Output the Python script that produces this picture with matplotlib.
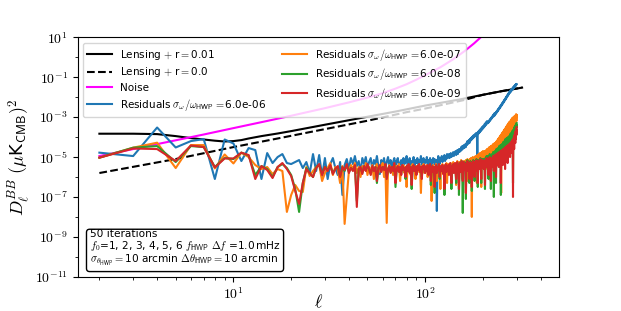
import numpy as np
import matplotlib
matplotlib.use("Agg")
import matplotlib.pyplot as plt
from matplotlib import ticker

plt.rcParams['mathtext.fontset'] = 'cm'
plt.rcParams['font.family'] = ['DejaVu Sans']

# ---------------- data (log10 of D_ell in muK^2) ----------------
lens_r001_ell = [2, 3, 4, 5, 6, 7, 8, 9, 10, 11, 12, 14, 17, 20, 30, 50, 70, 100, 150, 200, 250, 320]
lens_r001_log = [-3.83, -3.83, -3.85, -3.95, -4.05, -4.12, -4.18, -4.22, -4.2, -4.15, -4.07, -3.95,
                 -3.82, -3.7, -3.38, -2.98, -2.72, -2.42, -2.12, -1.88, -1.7, -1.52]

lens_r0_ell = [2, 5, 10, 16, 30, 50, 80, 100, 160, 200, 250, 320]
lens_r0_log = [-5.8, -5.1, -4.5, -4.12, -3.6, -3.18, -2.75, -2.57, -2.14, -1.88, -1.7, -1.52]

noise_ell = [2, 3, 5, 7, 10, 15, 20, 30, 40, 50, 60, 70, 80, 90, 100, 120, 140, 160, 180, 200, 250]
noise_log = [-4.95, -4.6, -4.16, -3.87, -3.55, -3.19, -2.93, -2.55, -2.26, -2.02, -1.8, -1.57,
             -1.35, -1.12, -0.9, -0.5, -0.1, 0.3, 0.7, 1.1, 2.6]

res_ell = list(range(2, 301))

res_6e06_log = [
    -4.78, -4.95, -3.52, -4.52, -4.2, -4.1, -6.1, -4.12, -4.32, -5.2,
    -4.55, -4.65, -6.1, -4.8, -5.3, -5.0, -4.85, -5.3, -5.35, -5.25,
    -5.15, -5.55, -5.25, -5.8, -4.85, -5.7, -4.9, -5.95, -5.05, -6.1,
    -5.35, -5.05, -5.55, -5.9, -5.25, -6.9, -5.4, -5.1, -5.6, -5.05,
    -5.35, -4.95, -5.45, -5.2, -5.75, -5.05, -5.35, -5.0, -5.55, -5.25,
    -5.05, -5.65, -5.15, -5.35, -4.95, -5.45, -5.85, -5.15, -5.35, -5.05,
    -5.55, -5.25, -5.0, -5.45, -5.15, -5.75, -5.25, -5.05, -5.4, -5.2,
    -5.05, -5.55, -5.3, -5.15, -5.65, -5.05, -5.35, -5.25, -4.95, -5.5,
    -5.25, -5.05, -5.45, -5.2, -5.35, -5.0, -5.55, -5.15, -5.3, -5.05,
    -5.4, -5.15, -5.25, -4.95, -5.5, -5.2, -5.05, -5.35, -5.15, -5.25,
    -5.0, -5.35, -5.15, -5.45, -5.05, -5.3, -5.15, -5.55, -5.05, -5.25,
    -5.1, -5.4, -5.15, -7.7, -5.25, -4.95, -5.2, -5.35, -5.05, -5.15,
    -4.95, -5.25, -5.05, -5.15, -4.9, -5.2, -5.0, -5.1, -4.85, -5.05,
    -4.95, -4.85, -5.05, -4.9, -4.8, -5.0, -4.85, -4.9, -4.75, -4.95,
    -4.8, -4.85, -4.7, -4.9, -4.75, -4.65, -4.85, -4.7, -4.6, -4.75,
    -4.6, -4.7, -4.5, -4.65, -4.45, -4.6, -4.5, -4.4, -4.55, -4.45,
    -4.35, -4.5, -4.3, -4.4, -4.2, -4.35, -4.25, -4.15, -4.3, -4.1,
    -4.2, -4.05, -4.15, -4.0, -4.1, -3.95, -4.05, -3.9, -4.0, -3.95,
    -3.85, -3.95, -3.8, -3.9, -3.85, -5.0, -3.75, -3.85, -3.7, -3.8,
    -3.65, -3.75, -3.6, -3.7, -3.55, -3.65, -3.5, -3.6, -3.45, -3.55,
    -3.45, -3.5, -3.35, -3.45, -3.3, -3.4, -3.25, -3.35, -3.2, -3.3,
    -3.25, -3.3, -3.2, -3.25, -3.15, -3.2, -3.1, -3.15, -3.05, -3.1,
    -3.0, -3.05, -2.95, -3.0, -2.9, -2.95, -2.85, -2.95, -2.8, -2.9,
    -2.8, -2.85, -2.75, -2.8, -2.7, -2.75, -2.65, -2.7, -2.6, -2.65,
    -2.55, -2.6, -2.5, -2.55, -2.45, -2.5, -2.4, -2.45, -2.35, -2.4,
    -2.3, -2.35, -2.25, -2.3, -2.2, -2.25, -2.15, -2.2, -2.1, -2.15,
    -2.05, -2.1, -2.0, -2.05, -1.95, -2.0, -1.9, -1.95, -1.85, -1.9,
    -1.8, -1.85, -1.75, -1.8, -1.72, -1.77, -1.68, -1.73, -1.64, -1.7,
    -1.6, -1.65, -1.57, -1.62, -1.53, -1.58, -1.5, -1.55, -1.46, -1.52,
    -1.44, -1.48, -1.4, -1.45, -1.37, -1.42, -1.34, -1.38, -1.35]

res_6e07_log = [
    -5.03, -4.53, -4.28, -5.55, -4.4, -4.4, -5.57, -4.87, -5.32, -4.78,
    -5.0, -5.4, -5.6, -5.5, -5.85, -5.6, -5.7, -7.75, -6.9, -6.4,
    -6.7, -6.75, -5.5, -5.95, -5.7, -5.5, -5.4, -6.2, -5.8, -5.55,
    -5.3, -5.9, -5.5, -5.6, -6.3, -5.45, -8.35, -7.0, -5.7, -5.4,
    -5.6, -5.3, -5.8, -5.5, -6.0, -5.45, -5.65, -5.3, -5.9, -5.5,
    -5.7, -5.4, -6.1, -5.5, -5.35, -5.8, -5.5, -5.6, -5.3, -6.0,
    -5.5, -8.3, -5.6, -5.4, -5.75, -5.5, -5.9, -5.4, -5.6, -5.45,
    -5.7, -5.35, -6.2, -5.5, -5.6, -5.4, -5.8, -5.5, -6.5, -5.4,
    -5.6, -5.45, -5.9, -5.5, -5.35, -5.7, -5.5, -6.1, -5.45, -5.6,
    -5.4, -5.75, -5.5, -6.8, -5.45, -5.6, -5.35, -5.8, -5.5, -5.65,
    -5.4, -6.0, -5.55, -5.45, -5.7, -5.5, -7.2, -5.6, -5.4, -5.8,
    -5.5, -5.65, -5.35, -6.2, -5.5, -5.7, -5.4, -5.55, -6.6, -5.45,
    -5.6, -5.35, -5.75, -5.5, -5.9, -5.4, -5.6, -5.3, -6.3, -5.5,
    -5.35, -5.7, -5.45, -5.6, -5.3, -6.0, -5.4, -5.55, -5.25, -5.7,
    -5.4, -5.6, -5.3, -6.4, -5.45, -5.2, -5.65, -5.35, -5.5, -5.25,
    -5.6, -5.3, -5.15, -5.5, -6.1, -5.3, -5.45, -5.2, -5.55, -5.25,
    -5.4, -5.15, -5.6, -5.3, -5.1, -6.2, -5.35, -5.2, -5.45, -5.1,
    -5.3, -5.05, -5.5, -8.0, -5.2, -5.0, -5.35, -5.15, -5.45, -5.0,
    -5.2, -4.95, -5.4, -5.1, -6.3, -4.9, -5.25, -5.05, -4.85, -5.3,
    -5.0, -4.8, -5.2, -4.95, -6.5, -4.75, -5.1, -4.9, -4.7, -5.15,
    -4.75, -5.0, -4.7, -5.1, -4.7, -5.6, -4.65, -4.95, -4.6, -5.05,
    -4.6, -4.85, -4.55, -5.3, -4.5, -4.8, -4.5, -4.95, -4.45, -4.75,
    -4.45, -4.7, -4.4, -5.2, -4.35, -4.65, -4.35, -4.9, -4.3, -4.6,
    -4.3, -4.55, -4.25, -5.3, -4.2, -4.45, -4.15, -4.7, -4.1, -4.4,
    -4.05, -4.35, -4.0, -4.6, -3.95, -4.3, -3.9, -6.8, -3.85, -4.2,
    -3.8, -4.1, -3.75, -4.4, -3.7, -4.0, -3.65, -4.3, -3.6, -3.95,
    -3.55, -3.9, -3.5, -4.2, -3.45, -3.8, -3.4, -4.1, -3.35, -3.7,
    -3.3, -3.65, -3.25, -4.0, -3.25, -3.6, -3.2, -3.9, -3.15, -3.5,
    -3.1, -3.45, -3.05, -3.8, -3.05, -3.4, -3.0, -3.7, -3.0, -3.3,
    -2.95, -3.3, -2.95, -3.6, -2.9, -3.25, -2.85, -3.2, -2.9]

res_6e08_log = [
    -5.03, -4.53, -4.45, -5.25, -4.45, -4.5, -5.5, -5.05, -5.1, -4.78,
    -4.92, -5.9, -5.45, -5.6, -6.0, -5.5, -5.35, -5.55, -5.9, -6.6,
    -7.75, -6.3, -5.55, -5.8, -6.0, -5.5, -5.4, -5.85, -5.5, -5.65,
    -5.45, -5.8, -5.6, -5.5, -5.95, -5.5, -5.7, -5.4, -5.75, -5.55,
    -5.65, -5.45, -7.2, -5.6, -5.55, -5.8, -5.45, -5.65, -5.4, -5.6,
    -5.85, -5.5, -5.65, -5.5, -6.3, -5.55, -5.45, -5.7, -5.5, -5.6,
    -5.4, -6.0, -5.6, -5.5, -5.75, -5.5, -5.65, -5.35, -6.5, -5.6,
    -5.5, -5.7, -5.5, -5.85, -5.45, -5.6, -5.55, -6.1, -5.5, -5.65,
    -5.4, -5.75, -5.5, -6.6, -5.5, -5.45, -5.65, -5.5, -5.85, -5.5,
    -5.6, -5.4, -5.7, -5.5, -6.0, -5.5, -5.55, -5.45, -5.75, -5.5,
    -5.65, -5.45, -5.85, -5.5, -5.4, -6.4, -5.55, -5.5, -5.7, -5.5,
    -6.8, -5.5, -5.45, -5.75, -5.5, -5.6, -5.4, -6.1, -5.55, -5.5,
    -5.65, -5.45, -5.8, -5.5, -6.9, -5.5, -5.4, -5.7, -5.5, -5.55,
    -5.45, -5.85, -5.5, -5.35, -5.65, -6.6, -5.45, -5.55, -5.4, -5.75,
    -5.5, -5.35, -5.6, -6.3, -5.45, -5.3, -5.65, -5.45, -6.9, -5.4,
    -5.3, -5.7, -5.4, -5.2, -5.55, -7.8, -5.35, -5.25, -5.6, -5.3,
    -5.45, -7.1, -5.25, -5.4, -5.15, -5.65, -5.3, -5.45, -6.3, -5.25,
    -5.2, -5.5, -5.35, -6.7, -5.25, -5.4, -5.15, -5.55, -5.3, -6.2,
    -5.2, -5.45, -5.25, -5.1, -5.65, -5.3, -6.5, -5.15, -5.4, -5.2,
    -5.5, -5.25, -5.05, -5.45, -6.3, -5.2, -5.35, -5.1, -5.5, -5.25,
    -5.1, -5.5, -5.25, -6.6, -5.05, -5.3, -5.15, -4.95, -5.4, -5.2,
    -4.95, -5.4, -6.1, -5.05, -5.2, -4.85, -5.3, -5.1, -6.6, -4.95,
    -5.1, -4.85, -5.3, -5.0, -4.75, -5.2, -7.0, -4.9, -5.1, -4.7,
    -5.0, -4.8, -6.3, -4.6, -4.95, -4.75, -5.1, -4.55, -4.9, -4.7,
    -5.2, -4.45, -4.85, -4.6, -5.0, -4.4, -6.9, -4.55, -4.75, -4.35,
    -4.65, -4.45, -5.0, -4.25, -4.6, -4.4, -4.85, -4.2, -4.55, -5.3,
    -4.1, -4.45, -4.25, -4.75, -4.05, -4.35, -4.15, -4.9, -4.0, -4.3,
    -4.05, -4.5, -3.95, -4.2, -3.95, -4.6, -3.85, -4.15, -3.8, -4.4,
    -3.85, -4.05, -3.7, -4.3, -3.75, -6.3, -3.65, -3.95, -3.6, -4.2,
    -3.5, -3.8, -3.45, -3.9, -3.4, -3.7, -3.35, -3.55, -3.3]

res_6e09_log = [
    -5.03, -4.57, -4.6, -5.2, -4.42, -4.5, -5.52, -5.07, -5.07, -4.78,
    -4.9, -6.1, -5.45, -5.65, -6.05, -5.5, -5.3, -5.6, -5.95, -6.7,
    -7.35, -6.3, -5.6, -5.8, -6.0, -5.55, -5.35, -5.9, -5.5, -5.7,
    -5.4, -5.85, -5.6, -5.45, -6.0, -5.5, -5.65, -5.35, -5.8, -5.55,
    -5.7, -5.4, -7.5, -5.6, -5.5, -5.85, -5.45, -5.7, -5.35, -5.6,
    -5.9, -5.45, -5.7, -5.5, -6.2, -5.55, -5.4, -5.75, -5.5, -5.65,
    -5.35, -6.1, -5.6, -5.45, -5.8, -5.5, -5.7, -5.3, -6.3, -5.6,
    -5.45, -5.75, -5.5, -5.9, -5.4, -5.65, -5.55, -6.0, -5.45, -5.7,
    -5.35, -5.8, -5.5, -6.4, -5.55, -5.4, -5.7, -5.5, -5.9, -5.45,
    -5.65, -5.35, -5.75, -5.5, -6.1, -5.45, -5.6, -5.4, -5.8, -5.5,
    -5.7, -5.4, -5.9, -5.55, -5.35, -6.2, -5.6, -5.45, -5.75, -5.5,
    -6.5, -5.55, -5.4, -5.8, -5.5, -5.65, -5.35, -6.0, -5.6, -5.45,
    -5.7, -5.4, -5.85, -5.5, -6.6, -5.55, -5.35, -5.75, -5.45, -5.6,
    -5.4, -5.9, -5.5, -5.3, -5.7, -6.3, -5.45, -5.6, -5.35, -5.8,
    -5.5, -5.3, -5.65, -6.1, -5.45, -5.25, -5.7, -5.5, -6.6, -5.4,
    -5.3, -5.75, -5.45, -5.2, -5.6, -6.2, -5.4, -5.25, -5.65, -5.35,
    -5.5, -6.8, -5.3, -5.45, -5.2, -5.7, -5.35, -5.5, -6.1, -5.3,
    -5.25, -5.55, -5.4, -6.5, -5.3, -5.45, -5.2, -5.6, -5.35, -6.0,
    -5.25, -5.5, -5.3, -5.15, -5.7, -5.35, -6.3, -5.2, -5.45, -5.25,
    -5.6, -5.3, -5.1, -5.5, -6.1, -5.25, -5.4, -5.15, -5.55, -5.3,
    -5.2, -5.6, -5.35, -6.4, -5.15, -5.4, -5.25, -5.05, -5.5, -5.3,
    -5.1, -5.55, -5.9, -5.2, -5.35, -5.0, -5.45, -5.25, -6.2, -5.1,
    -5.3, -5.05, -5.5, -5.2, -4.95, -5.4, -5.7, -5.1, -5.3, -4.9,
    -5.25, -5.05, -6.0, -4.85, -5.2, -5.0, -5.4, -4.8, -5.15, -4.95,
    -5.5, -4.75, -5.1, -4.9, -5.3, -4.7, -6.3, -4.85, -5.05, -4.65,
    -5.0, -4.8, -5.4, -4.6, -4.95, -4.75, -5.2, -4.55, -4.9, -5.6,
    -4.5, -4.8, -4.65, -5.1, -4.45, -4.75, -4.55, -5.3, -4.4, -4.7,
    -4.5, -4.95, -4.35, -4.6, -4.4, -5.0, -4.3, -4.55, -4.25, -4.8,
    -4.3, -4.5, -4.15, -4.7, -4.2, -7.0, -4.1, -4.4, -4.0, -4.6,
    -3.9, -4.2, -3.8, -4.3, -3.7, -4.1, -3.6, -3.9, -3.5]

res_labels = ["6.0e-06", "6.0e-07", "6.0e-08", "6.0e-09"]
res_colors = ["#1f77b4", "#ff7f0e", "#2ca02c", "#d62728"]

# ---------------- plot ----------------
fig, ax = plt.subplots(figsize=(6.21, 3.11), dpi=100)

ax.plot(lens_r001_ell, 10.0 ** np.array(lens_r001_log), color='black', lw=1.5,
        label=r"Lensing $+$ r$=$0.01")
ax.plot(lens_r0_ell, 10.0 ** np.array(lens_r0_log), color='black', lw=1.5, ls='--',
        label=r"Lensing $+$ r$=$0.0")
ax.plot(noise_ell, 10.0 ** np.array(noise_log), color='magenta', lw=1.5, label="Noise")

for vals, lab, col in zip([res_6e06_log, res_6e07_log, res_6e08_log, res_6e09_log],
                          res_labels, res_colors):
    ax.plot(res_ell, 10.0 ** np.array(vals), color=col, lw=1.5,
            label=r"Residuals $\sigma_\omega/\omega_\mathsf{HWP}$$=$" + lab)

ax.set_xscale('log')
ax.set_yscale('log')
ax.set_xlim(1.54, 498)
ax.set_ylim(1e-11, 1e1)

ax.yaxis.set_major_locator(ticker.FixedLocator([10.0 ** k for k in range(-11, 2, 2)]))
ax.yaxis.set_minor_locator(ticker.FixedLocator([10.0 ** k for k in range(-10, 1, 2)]))
ax.yaxis.set_minor_formatter(ticker.NullFormatter())
ax.xaxis.set_major_locator(ticker.FixedLocator([10.0, 100.0]))
sci = ticker.FuncFormatter(lambda v, p: r"$10^{%d}$" % int(round(np.log10(v))))
ax.xaxis.set_major_formatter(sci)
ax.yaxis.set_major_formatter(sci)

ax.set_xlabel(r"$\ell$", fontsize=13)
ax.xaxis.set_label_coords(0.5, -0.07)
ax.set_ylabel(r"$D_\ell^{BB}$ $(\mu$K$_\mathsf{CMB})^2$", fontsize=13, labelpad=2)

ax.legend(loc='upper left', ncol=2, fontsize=7.5, handlelength=2.4,
          labelspacing=0.35, columnspacing=1.5)

txt = ("50 iterations\n"
       r"$f_0$=1, 2, 3, 4, 5, 6 $f_\mathsf{HWP}$ $\Delta f$ =1.0$\,$mHz" "\n"
       r"$\sigma_{\theta_\mathsf{HWP}}$$=$10 arcmin $\Delta\theta_\mathsf{HWP}$$=$10 arcmin")
ax.text(0.025, 0.035, txt, transform=ax.transAxes, fontsize=7.6, va='bottom', ha='left',
        linespacing=1.0,
        bbox=dict(boxstyle='round,pad=0.3', facecolor='white', edgecolor='black'))

fig.savefig("out.png", dpi=100)
